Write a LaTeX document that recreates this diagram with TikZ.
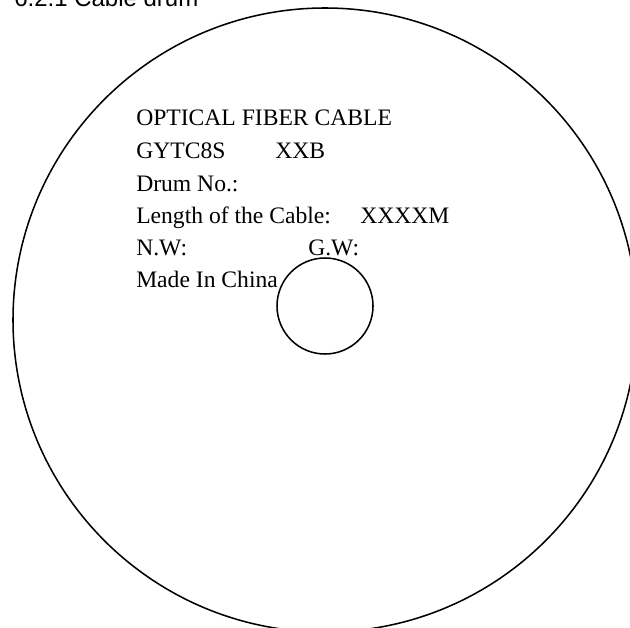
\documentclass[tikz,border=0pt]{standalone}
\usepackage{fontspec}
\setmainfont{Liberation Serif}
\newfontfamily\arialfont{Liberation Sans}
\usetikzlibrary{positioning}

\tikzset{
  tagline/.style={anchor=base west,inner sep=0pt,font=\fontsize{17.7}{20}\selectfont},
  headline/.style={anchor=base west,inner sep=0pt,font=\arialfont\fontsize{18}{20}\selectfont},
  rim/.style={draw=black,line width=1.15pt}
}

\begin{document}
\begin{tikzpicture}[x=0.75pt,y=-0.75pt]
        \useasboundingbox (0,0) rectangle (630,627);
        \clip (0,0) rectangle (630,627);
        % drum flange and hub
        \draw[rim] (325,320) circle (234pt);
        \draw[rim] (325,306) circle (36pt);
        % heading, cut at the top edge as in the source
        \node[headline] (title) at (14,7) {6.2.1 Cable drum};
        % drum label
        \node[tagline] (cable)  at (136,126) {OPTICAL FIBER CABLE};
        \node[tagline] (type)   at (136,159) {GYTC8S};
        \node[tagline] (typeno) at (275,159) {XXB};
        \node[tagline] (drum)   at (136,191) {Drum No.:};
        \node[tagline] (length) at (136,223) {Length of the Cable:};
        \node[tagline] (lenval) at (360,223) {XXXXM};
        \node[tagline] (nw)     at (136,255) {N.W:};
        \node[tagline] (gw)     at (308,255) {G.W:};
        \node[tagline] (origin) at (136,287) {Made In China};
      \end{tikzpicture}
\end{document}
